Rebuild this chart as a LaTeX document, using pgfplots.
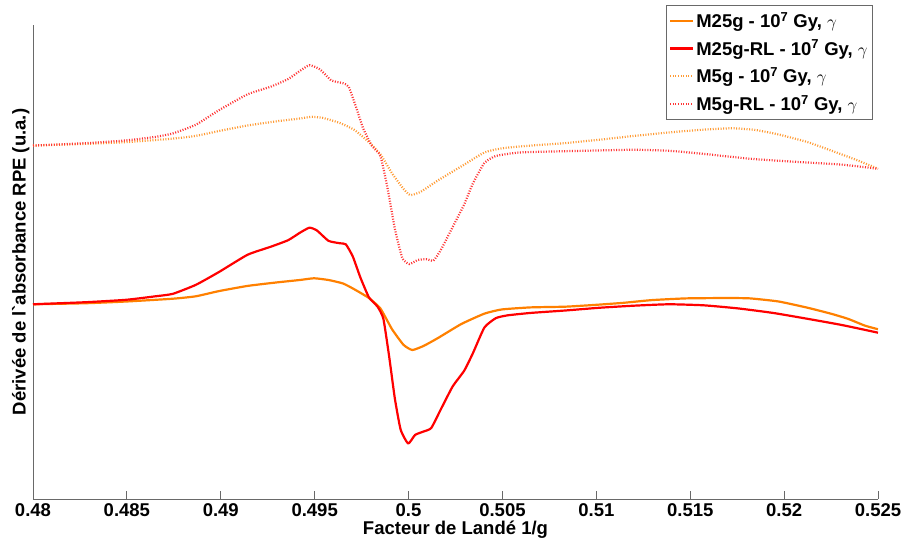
\documentclass[border=0pt]{standalone}
\usepackage{pgfplots}
\pgfplotsset{compat=1.18}
\usepackage{fontspec}
\setmainfont{Liberation Sans}
\definecolor{morange}{RGB}{255,128,0}
\definecolor{mred}{RGB}{255,0,0}
\definecolor{axgray}{RGB}{105,105,105}
\begin{document}
\begin{tikzpicture}
\useasboundingbox (-33pt,-44pt) rectangle (870pt,499pt);
\begin{axis}[
  scale only axis,
  width=845pt, height=474pt,
  xmin=0.48, xmax=0.525, ymin=0, ymax=1368,
  axis x line*=bottom, axis y line*=left,
  axis line style={axgray, line width=0.8pt},
  xtick={0.48,0.485,0.49,0.495,0.5,0.505,0.51,0.515,0.52,0.525},
  xticklabels={0.48,0.485,0.49,0.495,0.5,0.505,0.51,0.515,0.52,0.525},
  ytick=\empty,
  tick align=inside,
  major tick length=8pt,
  tick style={axgray, line width=0.8pt},
  x tick label style={font=\fontsize{18.5}{21}\selectfont\bfseries, yshift=-1pt},
  xlabel={Facteur de Landé 1/g},
  ylabel={Dérivée de l\textasciigrave absorbance RPE (u.a.)},
  xlabel style={font=\fontsize{18.5}{21}\selectfont\bfseries, at={(axis description cs:0.5,0)}, anchor=center, yshift=-31pt},
  ylabel style={font=\fontsize{18.5}{21}\selectfont\bfseries, yshift=0pt},
  legend cell align=left,
  legend style={at={(1,1)}, anchor=north east, xshift=-5pt, yshift=20pt,
    draw=axgray, line width=0.8pt, fill=white,
    font=\fontsize{18.5}{21}\selectfont\bfseries,
    inner xsep=3pt, inner ysep=5pt, row sep=7pt},
  legend image code/.code={\draw[#1] (0pt,0pt) -- (23pt,0pt);},
  every axis plot/.append style={line join=round},
]
\addplot[morange, line width=2.2pt, smooth, tension=0.3] coordinates {
(0.48000,562) (0.48283,565) (0.48498,570) (0.48744,578) (0.48867,585)
(0.48990,600) (0.49143,615) (0.49297,625) (0.49420,632) (0.49497,637)
(0.49574,632) (0.49651,622) (0.49712,605) (0.49789,580) (0.49850,550)
(0.49912,490) (0.49973,445) (0.50020,430) (0.50081,442) (0.50158,465)
(0.50281,505) (0.50404,535) (0.50496,547) (0.50650,553) (0.50834,555)
(0.50988,560) (0.51141,566) (0.51295,574) (0.51480,579) (0.51695,580)
(0.51818,579) (0.51971,570) (0.52125,552) (0.52248,535) (0.52340,520)
(0.52432,500) (0.52500,490)
};
\addlegendentry{M25g - 10\textsuperscript{7} Gy, {\mdseries$\gamma$}}
\addplot[mred, line width=2.2pt, smooth, tension=0.3] coordinates {
(0.48000,562) (0.48283,568) (0.48498,575) (0.48652,585) (0.48744,592)
(0.48867,618) (0.48990,655) (0.49143,705) (0.49266,728) (0.49359,747)
(0.49420,768) (0.49472,783) (0.49512,775) (0.49574,745) (0.49635,738)
(0.49666,735) (0.49703,700) (0.49743,640) (0.49789,582) (0.49835,555)
(0.49866,520) (0.49897,410) (0.49927,290) (0.49958,200) (0.49998,160)
(0.50035,185) (0.50081,195) (0.50121,205) (0.50173,260) (0.50235,325)
(0.50296,370) (0.50342,420) (0.50404,495) (0.50465,522) (0.50527,530)
(0.50650,537) (0.50834,544) (0.51018,552) (0.51203,558) (0.51387,562)
(0.51572,559) (0.51756,550) (0.51941,537) (0.52125,520) (0.52309,502)
(0.52500,480)
};
\addlegendentry{M25g-RL - 10\textsuperscript{7} Gy, {\mdseries$\gamma$}}
\addplot[morange!80, line width=2.2pt, dash pattern=on 1pt off 1.6pt, smooth, tension=0.3] coordinates {
(0.48000,1020) (0.48283,1025) (0.48498,1030) (0.48744,1040) (0.48867,1048)
(0.48990,1062) (0.49143,1078) (0.49297,1090) (0.49420,1098) (0.49482,1103)
(0.49543,1100) (0.49635,1085) (0.49712,1065) (0.49789,1030) (0.49850,995)
(0.49912,940) (0.49973,895) (0.50010,877) (0.50066,887) (0.50158,920)
(0.50281,960) (0.50404,1000) (0.50496,1012) (0.50650,1020) (0.50834,1027)
(0.51018,1037) (0.51203,1048) (0.51387,1058) (0.51572,1066) (0.51725,1070)
(0.51848,1065) (0.51971,1052) (0.52125,1030) (0.52279,1000) (0.52402,975)
(0.52500,953)
};
\addlegendentry{M5g - 10\textsuperscript{7} Gy, {\mdseries$\gamma$}}
\addplot[mred!80, line width=2.2pt, dash pattern=on 1pt off 1.6pt, smooth, tension=0.3] coordinates {
(0.48000,1020) (0.48283,1027) (0.48498,1035) (0.48652,1045) (0.48744,1055)
(0.48867,1080) (0.48990,1122) (0.49143,1168) (0.49266,1190) (0.49359,1212)
(0.49420,1235) (0.49472,1252) (0.49528,1240) (0.49589,1208) (0.49651,1200)
(0.49681,1190) (0.49721,1130) (0.49758,1070) (0.49804,1020) (0.49850,990)
(0.49887,900) (0.49927,780) (0.49967,695) (0.50004,678) (0.50050,690)
(0.50096,692) (0.50133,688) (0.50173,720) (0.50235,785) (0.50296,850)
(0.50342,910) (0.50404,970) (0.50465,990) (0.50588,1000) (0.50773,1003)
(0.51018,1006) (0.51203,1008) (0.51387,1005) (0.51572,996) (0.51818,982)
(0.52064,973) (0.52309,965) (0.52500,953)
};
\addlegendentry{M5g-RL - 10\textsuperscript{7} Gy, {\mdseries$\gamma$}}
\end{axis}
\end{tikzpicture}
\end{document}
